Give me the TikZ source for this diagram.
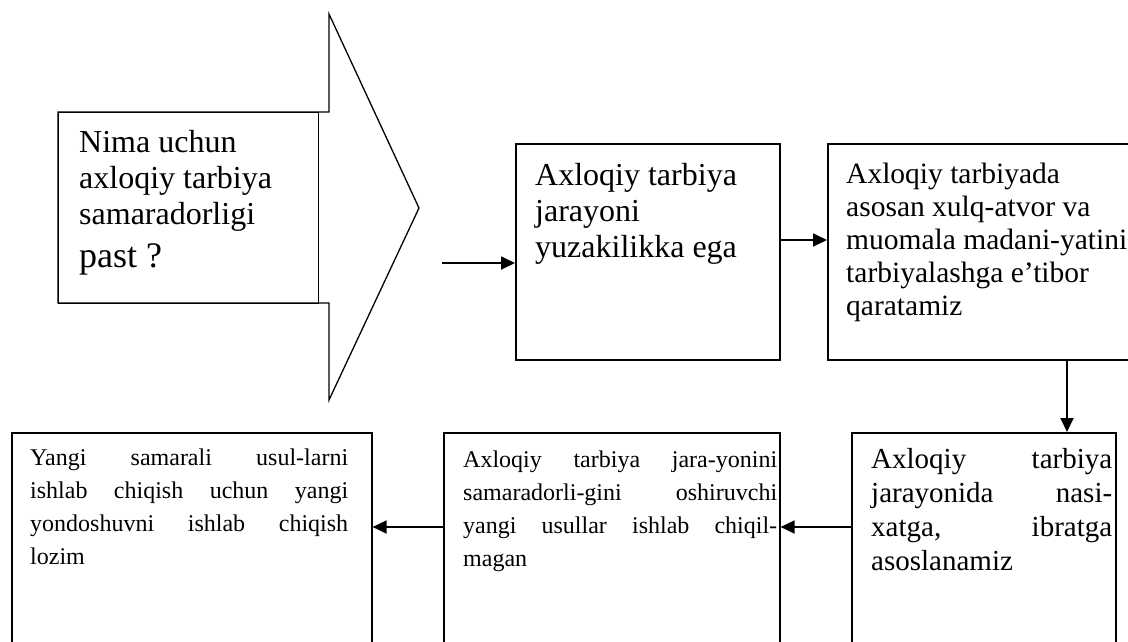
\documentclass[tikz,border=0pt]{standalone}
\usepackage{fontspec}
\setmainfont{Liberation Serif}
\usetikzlibrary{arrows.meta}
\newcommand\jl[1]{\makebox[\linewidth][s]{#1}\par}
\begin{document}
\begin{tikzpicture}[x=1pt,y=-1pt,
  boxn/.style={draw, line width=1.6pt, rectangle, inner sep=0pt, anchor=north west},
  txt/.style={anchor=base west, inner sep=0pt},
  conn/.style={line width=1.8pt, -{Triangle[length=14pt,width=13pt]}},
]
\useasboundingbox (0,0) rectangle (1128,641);
\clip (0,0) rectangle (1128,641);
% big block arrow
\draw[line width=1.3pt] (58,112) -- (329,112) -- (329,14) -- (419,208) -- (329,400) -- (329,303) -- (58,303) -- cycle;
\node[boxn, line width=1.3pt, minimum width=260pt, minimum height=191pt] (b1) at (58,112) {};
\node[txt] (t1) at (79,152) {\parbox[t]{238pt}{\fontsize{32}{36}\selectfont Nima uchun\par axloqiy tarbiya\par samaradorligi\par\fontsize{36}{43}\selectfont past ?}};
% boxes
\node[boxn, minimum width=264pt, minimum height=216pt] (b2) at (515,143) {};
\node[boxn, minimum width=330pt, minimum height=216pt] (b3) at (827,143) {};
\node[boxn, minimum width=264pt, minimum height=240pt] (b4) at (851,432) {};
\node[boxn, minimum width=336pt, minimum height=240pt] (b5) at (443,432) {};
\node[boxn, minimum width=360pt, minimum height=240pt] (b6) at (11,432) {};
% texts
\node[txt] (t2) at (535,185) {\parbox[t]{240pt}{\fontsize{32}{36}\selectfont Axloqiy tarbiya\par jarayoni\par yuzakilikka ega}};
\node[txt] (t3) at (846,183) {\parbox[t]{282pt}{\fontsize{29.5}{33}\selectfont Axloqiy tarbiyada\par asosan xulq-atvor va\par muomala madani-yatini\par tarbiyalashga e’tibor\par qaratamiz}};
\node[txt] (t4) at (871,468) {\parbox[t]{241pt}{\fontsize{29}{34}\selectfont \jl{Axloqiy tarbiya}\jl{jarayonida nasi-}\jl{xatga, ibratga}asoslanamiz}};
\node[txt] (t5) at (463,467) {\parbox[t]{314pt}{\fontsize{24}{33}\selectfont \jl{Axloqiy tarbiya jara-yonini}\jl{samaradorli-gini oshiruvchi}\jl{yangi usullar ishlab chiqil-}magan}};
\node[txt] (t6) at (30,465) {\parbox[t]{318pt}{\fontsize{24}{33}\selectfont \jl{Yangi samarali usul-larni}\jl{ishlab chiqish uchun yangi}\jl{yondoshuvni ishlab chiqish}lozim}};
% connectors
\coordinate (s) at (442,263);
\coordinate (y240) at (0,240);
\coordinate (x1067) at (1067,0);
\coordinate (y527) at (0,527);
\draw[conn] (s) -- (b2.west |- s);
\draw[conn] (b2.east |- y240) -- (b3.west |- y240);
\draw[conn] (b3.south -| x1067) -- (b4.north -| x1067);
\draw[conn] (b4.west |- y527) -- (b5.east |- y527);
\draw[conn] (b5.west |- y527) -- (b6.east |- y527);
\end{tikzpicture}
\end{document}
